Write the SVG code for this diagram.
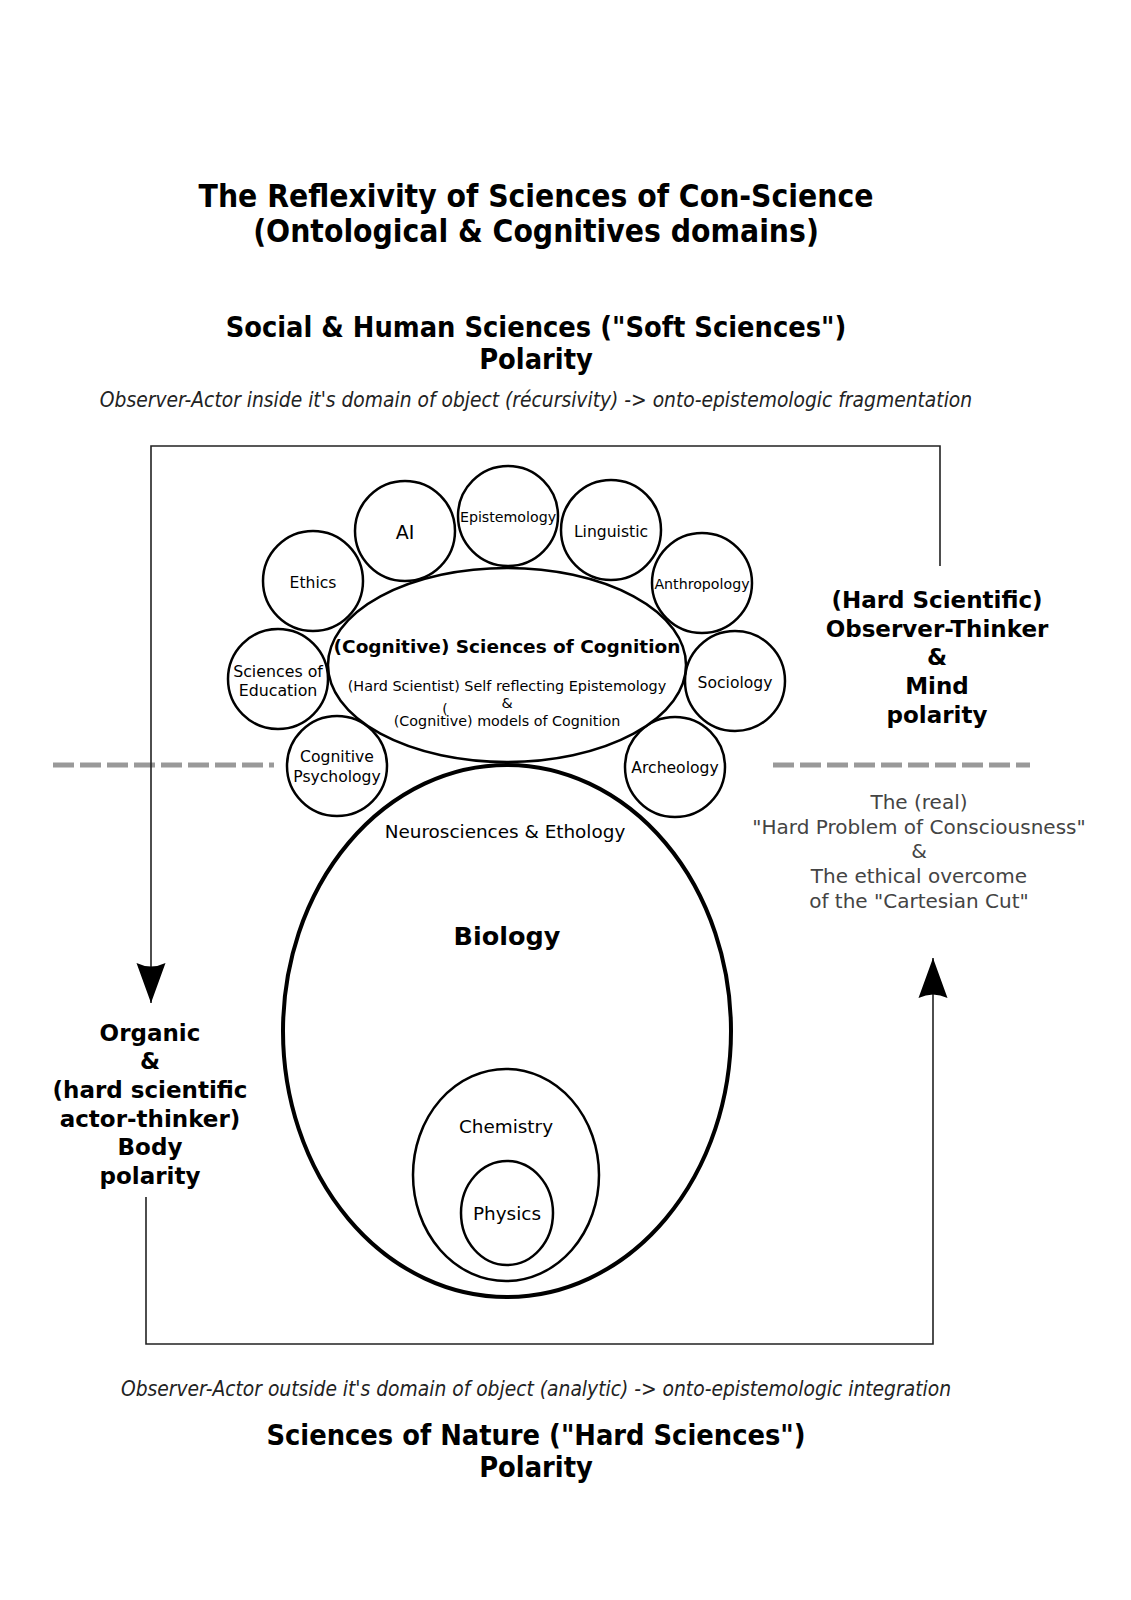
<svg xmlns="http://www.w3.org/2000/svg" width="1131" height="1600" viewBox="0 0 1131 1600">
<style>
  .cond { font-family: "DejaVu Sans Condensed", "DejaVu Sans", sans-serif; font-stretch: condensed; }
  .title { font-weight: bold; font-size: 31.5px; fill: #000; text-anchor: middle; }
  .sub { font-weight: bold; font-size: 28.7px; fill: #000; text-anchor: middle; }
  .ital { font-style: italic; font-size: 20.8px; fill: #222; text-anchor: middle; }
  .lbl { font-family: "DejaVu Sans", Verdana, sans-serif; fill: #000; text-anchor: middle; }
  .bold { font-family: "DejaVu Sans", Verdana, sans-serif; font-weight: bold; fill: #000; text-anchor: middle; font-size: 23px; }
  .gray { font-family: "DejaVu Sans", Verdana, sans-serif; fill: #444; text-anchor: middle; font-size: 20px; }
  .c { fill: #fff; stroke: #000; stroke-width: 2.5; }
  .conn { fill: none; stroke: #222; stroke-width: 1.6; }
  .dash { stroke: #999; stroke-width: 5; stroke-dasharray: 21 6; }
</style>
<defs>
  <marker id="arrow" markerUnits="userSpaceOnUse" viewBox="-42 -16 44 32" refX="0" refY="0" markerWidth="44" markerHeight="32" orient="auto">
    <path d="M0,0 L-40,-14.5 Q-33,0 -40,14.5 Z" fill="#000"/>
  </marker>
</defs>
<rect width="1131" height="1600" fill="#fff"/>

<g id="titles">
  <text class="cond title" x="536" y="207">The Reflexivity of Sciences of Con-Science</text>
  <text class="cond title" x="536" y="242">(Ontological &amp; Cognitives domains)</text>
  <text class="cond sub" x="536" y="337">Social &amp; Human Sciences ("Soft Sciences")</text>
  <text class="cond sub" x="536" y="369">Polarity</text>
  <text class="cond ital" x="536" y="407">Observer-Actor inside it's domain of object (récursivity) -&gt; onto-epistemologic fragmentation</text>
  <text class="cond ital" x="536" y="1396">Observer-Actor outside it's domain of object (analytic) -&gt; onto-epistemologic integration</text>
  <text class="cond sub" x="536" y="1445">Sciences of Nature ("Hard Sciences")</text>
  <text class="cond sub" x="536" y="1477">Polarity</text>
</g>

<g id="dashes">
  <line class="dash" x1="53" y1="765" x2="274" y2="765"/>
  <line class="dash" x1="773" y1="765" x2="1030" y2="765"/>
</g>

<g id="connectors">
  <path class="conn" d="M940,566 V446 H151 V1003" marker-end="url(#arrow)"/>
  <path class="conn" d="M146,1197 V1344 H933 V958" marker-end="url(#arrow)"/>
</g>

<g id="biology">
  <ellipse cx="507" cy="1031" rx="224" ry="266" fill="#fff" stroke="#000" stroke-width="4"/>
  <text class="lbl" x="505" y="838" font-size="18.4">Neurosciences &amp; Ethology</text>
  <text class="lbl" x="507" y="945" font-size="25.5" font-weight="bold">Biology</text>
</g>
<g id="chemistry">
  <ellipse class="c" cx="506" cy="1175" rx="93" ry="106"/>
  <text class="lbl" x="506" y="1133" font-size="18.4">Chemistry</text>
</g>
<g id="physics">
  <ellipse class="c" cx="507" cy="1213" rx="46" ry="52"/>
  <text class="lbl" x="507" y="1220" font-size="18.4">Physics</text>
</g>

<g id="ai"><circle class="c" cx="405" cy="531" r="50"/><text class="lbl" x="405" y="539" font-size="19">AI</text></g>
<g id="epistemology"><circle class="c" cx="508" cy="516" r="50"/><text class="lbl" x="508" y="522" font-size="14.2">Epistemology</text></g>
<g id="linguistic"><circle class="c" cx="611" cy="530" r="50"/><text class="lbl" x="611" y="537" font-size="15.6">Linguistic</text></g>
<g id="anthropology"><circle class="c" cx="702" cy="583" r="50"/><text class="lbl" x="702" y="589" font-size="14.2">Anthropology</text></g>
<g id="sociology"><circle class="c" cx="735" cy="681" r="50"/><text class="lbl" x="735" y="688" font-size="15.6">Sociology</text></g>
<g id="archeology"><circle class="c" cx="675" cy="767" r="50"/><text class="lbl" x="675" y="773" font-size="15.6">Archeology</text></g>
<g id="ethics"><circle class="c" cx="313" cy="581" r="50"/><text class="lbl" x="313" y="588" font-size="15.6">Ethics</text></g>
<g id="education"><circle class="c" cx="278" cy="679" r="50"/><text class="lbl" x="278" y="677" font-size="15.8">Sciences of</text><text class="lbl" x="278" y="696" font-size="15.8">Education</text></g>
<g id="psychology"><circle class="c" cx="337" cy="766" r="50"/><text class="lbl" x="337" y="762" font-size="15.6">Cognitive</text><text class="lbl" x="337" y="782" font-size="15.6">Psychology</text></g>

<g id="cognition">
  <ellipse class="c" cx="507" cy="665" rx="179" ry="97"/>
  <text class="lbl" x="507" y="653" font-size="18.5" font-weight="bold">(Cognitive) Sciences of Cognition</text>
  <text class="lbl" x="507" y="691" font-size="14.4">(Hard Scientist) Self reflecting Epistemology</text>
  <text class="lbl" x="507" y="708" font-size="14.4">&amp;</text>
  <text class="lbl" x="445" y="714" font-size="14">(</text>
  <text class="lbl" x="507" y="726" font-size="14.3">(Cognitive) models of Cognition</text>
</g>

<g id="body-polarity">
  <text class="bold" x="150" y="1041">Organic</text>
  <text class="bold" x="150" y="1069">&amp;</text>
  <text class="bold" x="150" y="1098">(hard scientific</text>
  <text class="bold" x="150" y="1127">actor-thinker)</text>
  <text class="bold" x="150" y="1155">Body</text>
  <text class="bold" x="150" y="1184">polarity</text>
</g>

<g id="mind-polarity">
  <text class="bold" x="937" y="608">(Hard Scientific)</text>
  <text class="bold" x="937" y="637">Observer-Thinker</text>
  <text class="bold" x="937" y="665">&amp;</text>
  <text class="bold" x="937" y="694">Mind</text>
  <text class="bold" x="937" y="723">polarity</text>
</g>

<g id="hard-problem">
  <text class="gray" x="919" y="809">The (real)</text>
  <text class="gray" x="919" y="834">"Hard Problem of Consciousness"</text>
  <text class="gray" x="919" y="858">&amp;</text>
  <text class="gray" x="919" y="883">The ethical overcome</text>
  <text class="gray" x="919" y="908">of the "Cartesian Cut"</text>
</g>
</svg>
